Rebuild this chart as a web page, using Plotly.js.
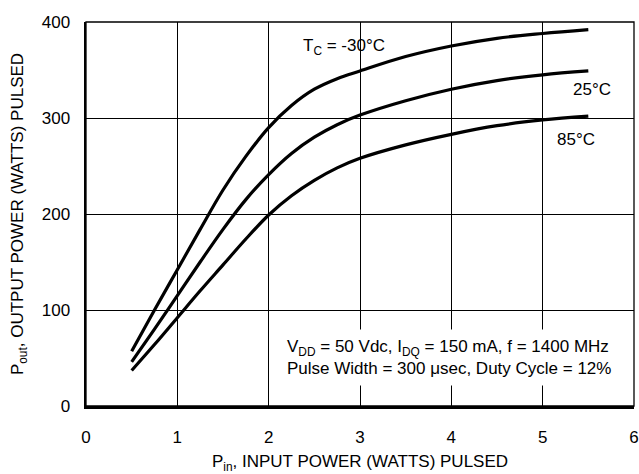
<!DOCTYPE html>
<html>
<head>
<meta charset="utf-8">
<script src="https://cdn.plot.ly/plotly-3.0.1.min.js"></script>
<style>html,body{margin:0;padding:0;background:#fff}#chart{width:639px;height:474px}</style>
</head>
<body>
<div id="chart"></div>
<script>
const pin = [0.5, 0.75, 1, 1.25, 1.5, 1.75, 2, 2.25, 2.5, 2.75, 3, 3.5, 4, 4.5, 5, 5.5];
const poutM30 = [57, 100, 142, 184, 225, 260, 290, 313, 330, 341, 349, 364, 375, 383, 388, 392];
const pout25 = [46, 80, 115, 150, 184, 215, 241, 263, 280, 293, 303, 318, 330, 339, 345, 349];
const pout85 = [37, 64, 92, 120, 147, 174, 199, 219, 235, 248, 258, 272, 283, 292, 298, 302];
const xTicks = [0, 1, 2, 3, 4, 5, 6];
const yTicks = [0, 100, 200, 300, 400];

const FONT = "Liberation Sans, Arial, sans-serif";
const FS = 17;
const line = {color: '#000', width: 3.2, shape: 'spline', smoothing: 1};
const traces = [
  {x: pin, y: poutM30, mode: 'lines', line: line, name: '-30°C', hoverinfo: 'skip'},
  {x: pin, y: pout25, mode: 'lines', line: line, name: '25°C', hoverinfo: 'skip'},
  {x: pin, y: pout85, mode: 'lines', line: line, name: '85°C', hoverinfo: 'skip'}
];

const layout = {
  width: 639, height: 474,
  margin: {l: 86, r: 5, t: 22, b: 68},
  paper_bgcolor: '#fff', plot_bgcolor: '#fff',
  showlegend: false,
  font: {family: FONT, size: FS, color: '#000'},
  xaxis: {
    range: [0, 6.0001], tickvals: xTicks, ticktext: xTicks.map(String),
    showgrid: true, gridcolor: '#000', gridwidth: 1,
    showline: true, linecolor: '#000', linewidth: 2.5,
    zeroline: false, ticks: '', ticklabelstandoff: 14, ticklabeloverflow: 'allow',
    tickfont: {family: FONT, size: FS},
    title: {text: 'P<sub>in</sub>, INPUT POWER (WATTS) PULSED', font: {family: FONT, size: FS}, standoff: 12}
  },
  yaxis: {
    range: [0, 400], tickvals: yTicks, ticktext: yTicks.map(String),
    showgrid: true, gridcolor: '#000', gridwidth: 1,
    showline: true, linecolor: '#000', linewidth: 2.5,
    zeroline: false, ticks: '', ticklabelstandoff: 10,
    tickfont: {family: FONT, size: FS},
    title: {text: 'P<sub>out</sub>, OUTPUT POWER (WATTS) PULSED', font: {family: FONT, size: FS}, standoff: 14}
  },
  shapes: [
    {type: 'rect', xref: 'paper', yref: 'paper', x0: 0, x1: 1, y0: 0, y1: 1, line: {color: '#000', width: 1.3}}
  ],
  annotations: [
    {x: 2.82, y: 374, xref: 'x', yref: 'y', text: 'T<sub>C</sub> = -30°C', showarrow: false, font: {family: FONT, size: FS}},
    {x: 5.54, y: 330, xref: 'x', yref: 'y', text: '25°C', showarrow: false, font: {family: FONT, size: FS}},
    {x: 5.37, y: 278, xref: 'x', yref: 'y', text: '85°C', showarrow: false, font: {family: FONT, size: FS}},
    {x: 3.97, y: 51, xref: 'x', yref: 'y', align: 'left', showarrow: false, bgcolor: '#fff', borderpad: 7,
     text: 'V<sub>DD</sub> = 50 Vdc, I<sub>DQ</sub> = 150 mA, f = 1400 MHz<br>Pulse Width = 300 μsec, Duty Cycle = 12%',
     font: {family: FONT, size: FS}}
  ]
};
Plotly.newPlot('chart', traces, layout, {staticPlot: true, displayModeBar: false});
</script>
</body>
</html>
